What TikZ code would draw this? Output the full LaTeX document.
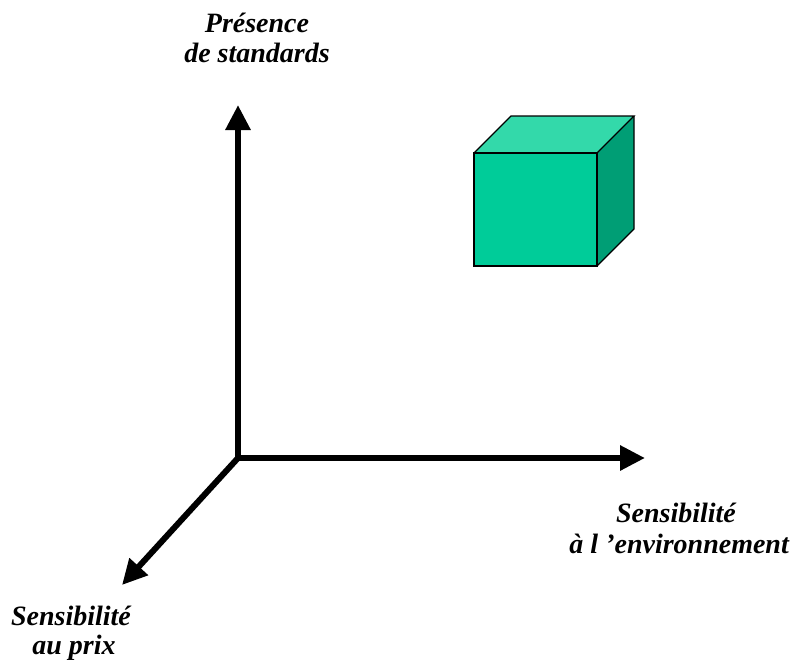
\documentclass[tikz,border=0pt]{standalone}
\usepackage{fontspec}
\setmainfont{Liberation Serif}
\usetikzlibrary{arrows.meta}
\definecolor{cubefront}{RGB}{0,204,153}
\definecolor{cubetop}{RGB}{51,217,170}
\definecolor{cubeside}{RGB}{0,158,117}
\begin{document}
\begin{tikzpicture}[x=1pt,y=-1pt,
  axis/.style={line width=6pt,-{Triangle[length=25pt,width=24pt]}},
  face/.style={draw=black,line width=1.3pt,line join=miter},
  lbl/.style={anchor=base,inner sep=0pt,font=\fontsize{28}{30}\selectfont\bfseries\itshape}]
\useasboundingbox (0,0) rectangle (792,670);
% axes
\coordinate (O) at (238,458);
\coordinate (Y) at (238,105);
\coordinate (X) at (645,458);
\coordinate (Z) at (122,585);
\draw[axis] ([yshift=3pt]O) -- (Y);
\draw[axis] ([xshift=-3pt]O) -- (X);
\draw[axis] (O) -- (Z);
% cube
\coordinate (A) at (474,153);
\coordinate (B) at (597,153);
\coordinate (C) at (597,266);
\coordinate (D) at (474,266);
\coordinate (E) at (511,116);
\coordinate (F) at (634,116);
\coordinate (G) at (634,229);
\fill[cubetop] (A) -- (E) -- (F) -- (B) -- cycle;
\fill[cubeside] (B) -- (F) -- (G) -- (C) -- cycle;
\fill[cubefront] (A) -- (B) -- (C) -- (D) -- cycle;
\draw[face] (A) -- (E) -- (F) -- (B);
\draw[face] (F) -- (G) -- (C);
\draw[face] (A) -- (B) -- (C) -- (D) -- cycle;
% labels
\node[lbl] (ly1) at (257,32) {Présence};
\node[lbl] (ly2) at (257,62) {de standards};
\node[lbl] (lx1) at (676,522) {Sensibilité};
\node[lbl,anchor=base east] (lx2) at (789,553) {à l ’environnement};
\node[lbl] (lz1) at (71,625) {Sensibilité};
\node[lbl] (lz2) at (74,654) {au prix};
\end{tikzpicture}
\end{document}
